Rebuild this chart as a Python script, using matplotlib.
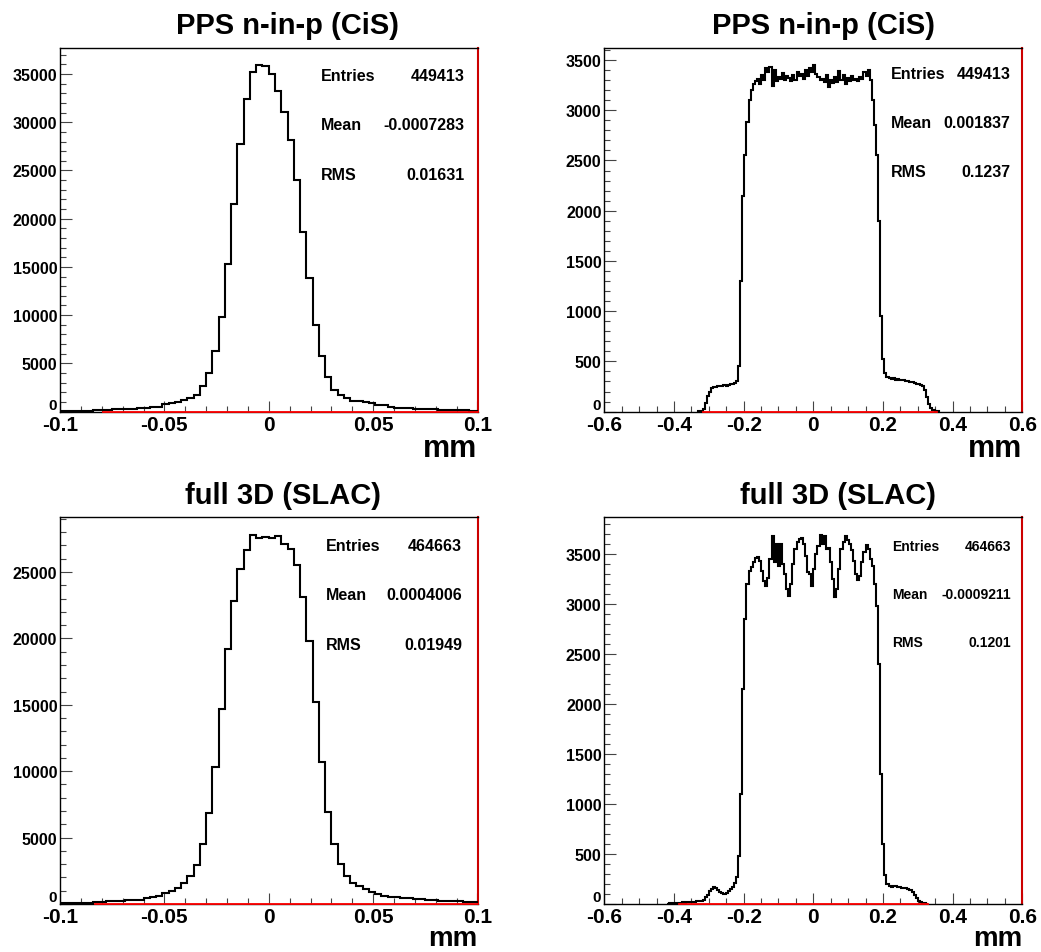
import numpy as np
import matplotlib
matplotlib.use("Agg")
import matplotlib.pyplot as plt
from matplotlib.ticker import MultipleLocator, FuncFormatter

plt.rcParams['font.family'] = ['Liberation Sans', 'DejaVu Sans']
plt.rcParams['font.weight'] = 'bold'
plt.rcParams['axes.unicode_minus'] = False

W, H = 1041, 953

# narrow residuals: 0.003 mm bins starting at -0.102
narrow_lo = -0.102
narrow_bw = 0.003
pps_narrow = [50, 60, 70, 80, 90, 100, 120, 150, 200, 220, 240, 270, 300, 350, 400, 460, 520,
              740, 880, 1020, 1190, 1430, 1770, 2670, 4040, 6240, 9810, 15280, 21540, 27720,
              32360, 35210, 35930, 35860,
              35040, 33220, 31020, 28130, 24010, 18610, 13800, 9020, 5720, 3600, 2220, 1700,
              1360, 1150, 1050, 950, 880, 700, 640, 450, 420, 390, 370, 300, 280, 270, 250,
              180, 160, 140, 130, 120, 110, 100]
slac_narrow = [40, 50, 60, 70, 80, 100, 120, 150, 200, 225, 250, 275, 325, 325, 450, 550, 625,
               826, 1000, 1200, 1580, 2080, 2950, 4500, 6830, 10310, 14690, 19240, 22850, 25250,
               26650, 27780, 27580, 27650,
               27580, 27700, 27080, 26730, 25530, 23150, 19820, 15220, 10710, 6900, 4500, 3000,
               2100, 1580, 1330, 1130, 920, 750, 625, 560, 500, 470, 440, 380, 340, 320, 290,
               260, 240, 220, 200, 180, 170, 160]

# wide residuals: 0.006 mm bins
wide_bw = 0.006
pps_wide_lo = -0.33
pps_wide = [5, 10, 30, 90, 160, 200, 230, 245, 240, 250, 255, 250, 262, 258, 268, 272, 270,
            285, 300, 450, 1300, 2150, 2550, 2880, 3100, 3200, 3260,
            3290, 3310, 3260, 3350, 3300, 3420, 3380, 3430, 3240, 3400, 3290, 3330, 3310, 3370,
            3300, 3340, 3320, 3290, 3350, 3300, 3380, 3340, 3360, 3310, 3400, 3340, 3420, 3380,
            3450, 3360, 3330, 3300, 3310, 3280, 3350, 3230, 3300, 3270, 3330, 3280, 3390, 3300,
            3350, 3260, 3320, 3290, 3340, 3300, 3310, 3290, 3330, 3310, 3380, 3340, 3400,
            3300, 3100, 2850, 2550, 1900, 950, 520, 380, 340, 330, 325, 330, 318, 322, 315, 318,
            310, 305, 300, 298, 290, 282, 275, 270, 262, 250, 215, 150, 80, 35, 12, 5, 2]
slac_wide_lo = -0.42
slac_wide = [5, 8, 10, 12, 10, 15, 12, 18, 15, 20, 22, 18, 25, 22, 28, 30, 35, 45, 70, 95, 130,
             155, 168, 160, 140, 125, 112, 100, 110, 135, 150, 175, 210, 270, 480, 1100, 2150,
             2850, 3200, 3330, 3370, 3420,
             3460, 3470, 3430, 3330, 3230, 3180, 3260, 3450, 3680, 3420, 3600, 3380, 3600, 3400,
             3300, 3150, 3080, 3200, 3400, 3550, 3620, 3650, 3660, 3600, 3480, 3320, 3300, 3180,
             3350, 3500, 3580, 3690, 3600, 3680, 3550, 3560, 3420, 3250, 3070, 3150, 3350, 3550,
             3620, 3680, 3640, 3600, 3540, 3430, 3300, 3240, 3280, 3420, 3520, 3590, 3550, 3450,
             3380, 3200, 2980, 2400, 1300, 600, 290, 200, 180, 175, 182, 178, 170, 172, 165, 160,
             158, 150, 140, 120, 90, 60, 30, 18, 12, 8, 5]

titles = ["PPS n-in-p (CiS)", "PPS n-in-p (CiS)", "full 3D (SLAC)", "full 3D (SLAC)"]
entries = ["449413", "449413", "464663", "464663"]
means = ["-0.0007283", "0.001837", "0.0004006", "-0.0009211"]
rms = ["0.01631", "0.1237", "0.01949", "0.1201"]
red_ranges = [(-0.0795, 0.1), (-0.316, 0.354), (-0.083, 0.1), (-0.385, 0.33)]

hists = [(pps_narrow, narrow_lo, narrow_bw), (pps_wide, pps_wide_lo, wide_bw),
         (slac_narrow, narrow_lo, narrow_bw), (slac_wide, slac_wide_lo, wide_bw)]

# layout in pixels: left, right, top, bottom
boxes = [(60, 477.5, 48.7, 412.6), (604.3, 1022.3, 48.7, 412.6),
         (60, 477.5, 517.7, 905), (604.3, 1022.3, 517.7, 905)]
title_pos = [(287, 34), (823, 34), (283, 504), (837.5, 504)]
stat_pos = [(0.626, 0.969, [0.923, 0.788, 0.651], 11.5),
            (0.685, 0.971, [0.930, 0.795, 0.659], 11.5),
            (0.638, 0.963, [0.925, 0.798, 0.670], 11.5),
            (0.688, 0.973, [0.924, 0.800, 0.676], 10)]
mm_style = [(44.1, 22), (44.1, 22), (41.5, 20), (41.5, 20)]
narrow_panel = [True, False, True, False]


def xfmt(v, p):
    return '%g' % (round(v, 6) + 0.0)


def yfmt(v, p):
    # the zero label is drawn by hand, a bit above the axis like ROOT
    if abs(v) < 1e-9:
        return ''
    return '%d' % round(v)


fig = plt.figure(figsize=(W / 100, H / 100), dpi=100)

for i in range(4):
    l, r, t, b = boxes[i]
    ax = fig.add_axes([l / W, 1 - b / H, (r - l) / W, (b - t) / H])
    vals, lo, bw = hists[i]
    edges = lo + bw * np.arange(len(vals) + 1)
    ax.stairs(vals, edges, color='black', lw=1.5, zorder=3)
    ax.plot(red_ranges[i], [0, 0], color='red', lw=1.3, zorder=4, clip_on=False)

    if narrow_panel[i]:
        ax.set_xlim(-0.1, 0.1)
        ax.xaxis.set_major_locator(MultipleLocator(0.05))
        ax.xaxis.set_minor_locator(MultipleLocator(0.01))
    else:
        ax.set_xlim(-0.6, 0.6)
        ax.xaxis.set_major_locator(MultipleLocator(0.2))
        ax.xaxis.set_minor_locator(MultipleLocator(0.05))
    top = 1.05 * max(vals)
    ax.set_ylim(0, top)
    if top > 10000:
        ax.yaxis.set_major_locator(MultipleLocator(5000))
        ax.yaxis.set_minor_locator(MultipleLocator(1000))
    else:
        ax.yaxis.set_major_locator(MultipleLocator(500))
        ax.yaxis.set_minor_locator(MultipleLocator(100))
    ax.xaxis.set_major_formatter(FuncFormatter(xfmt))
    ax.yaxis.set_major_formatter(FuncFormatter(yfmt))

    ax.tick_params(axis='y', which='major', direction='in', length=8.6, width=0.8,
                   color='#444444', labelsize=11.5, pad=2)
    ax.tick_params(axis='y', which='minor', direction='in', length=4.3, width=0.8,
                   color='#444444')
    ax.tick_params(axis='x', which='major', direction='in', length=7.7, width=0.8,
                   color='#444444', labelsize=15, pad=2.5)
    ax.tick_params(axis='x', which='minor', direction='in', length=4.1, width=0.8,
                   color='#444444')
    for lab in ax.get_xticklabels() + ax.get_yticklabels():
        lab.set_fontweight('bold')
    ax.text(-0.008, 0.0, "0", transform=ax.transAxes, fontsize=11, fontweight='bold',
            ha='right', va='bottom')

    for s in ['left', 'bottom', 'top']:
        ax.spines[s].set_color('black')
        ax.spines[s].set_linewidth(1.0)
    ax.spines['right'].set_color('#cc0000')
    ax.spines['right'].set_linewidth(1.5)

    # stats box text
    xl, xr, ys, fs = stat_pos[i]
    for name, val, y in zip(["Entries", "Mean", "RMS"], [entries[i], means[i], rms[i]], ys):
        ax.text(xl, y, name, transform=ax.transAxes, fontsize=fs, fontweight='bold',
                ha='left', va='center')
        ax.text(xr, y, val, transform=ax.transAxes, fontsize=fs, fontweight='bold',
                ha='right', va='center')

    # axis label "mm" under the right end
    gap, mfs = mm_style[i]
    ax.text(1.0, -gap / (b - t), "mm", transform=ax.transAxes, fontsize=mfs,
            fontweight='bold', ha='right', va='baseline')

    tx, ty = title_pos[i]
    fig.text(tx / W, 1 - ty / H, titles[i], fontsize=21, fontweight='bold',
             ha='center', va='baseline')

fig.savefig("out.png", dpi=100)
